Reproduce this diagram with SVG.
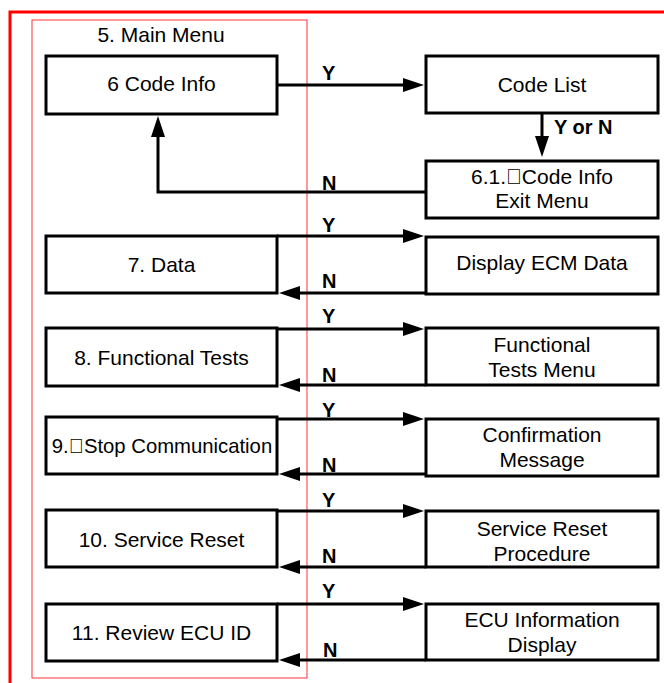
<svg xmlns="http://www.w3.org/2000/svg" width="664" height="683" viewBox="0 0 664 683">
<style>
text{font-family:"Liberation Sans",Arial,sans-serif;fill:#000}
.t{font-size:21px;text-anchor:middle}
.l{font-size:20px;font-weight:bold}
.box{fill:#fff;stroke:#000;stroke-width:3}
.c{fill:none;stroke:#000;stroke-width:3}
</style>
<defs>
<marker id="ah" viewBox="0 0 21 14" refX="6" refY="7" markerWidth="21" markerHeight="14" markerUnits="userSpaceOnUse" orient="auto">
<path d="M0,0 L21,7 L0,14 z" fill="#000"/>
</marker>
</defs>
<rect width="664" height="683" fill="#fff"/>
<path d="M10,683 V12 H664" fill="none" stroke="#ff0000" stroke-width="3"/>
<rect x="32" y="20" width="275" height="658" fill="none" stroke="#ff3333" stroke-width="1"/>
<text class="t" x="161" y="42">5. Main Menu</text>

<g id="n6"><rect class="box" x="46" y="56" width="231" height="58"/><text class="t" x="161.5" y="91">6 Code Info</text></g>
<g id="codelist"><rect class="box" x="426" y="56" width="232" height="57"/><text class="t" x="542" y="92">Code List</text></g>
<g id="n61"><rect class="box" x="426" y="161" width="232" height="57"/><text class="t" x="542" y="184">6.1.&#xF020;Code Info</text><text class="t" x="542" y="208">Exit Menu</text></g>
<g id="n7"><rect class="box" x="46" y="236" width="231" height="57"/><text class="t" x="161.5" y="272">7. Data</text></g>
<g id="ecm"><rect class="box" x="426" y="237" width="232" height="57"/><text class="t" x="542" y="270">Display ECM Data</text></g>
<g id="n8"><rect class="box" x="46" y="328" width="231" height="58"/><text class="t" x="161.5" y="365">8. Functional Tests</text></g>
<g id="ftm"><rect class="box" x="426" y="328" width="232" height="57"/><text class="t" x="542" y="352">Functional</text><text class="t" x="542" y="377">Tests Menu</text></g>
<g id="n9"><rect class="box" x="46" y="417" width="231" height="57"/><text class="t" x="162" y="453" style="font-size:20.3px">9.&#xF020;Stop Communication</text></g>
<g id="conf"><rect class="box" x="426" y="419" width="232" height="57"/><text class="t" x="542" y="442">Confirmation</text><text class="t" x="542" y="467">Message</text></g>
<g id="n10"><rect class="box" x="46" y="510" width="231" height="57"/><text class="t" x="161.5" y="547">10. Service Reset</text></g>
<g id="srp"><rect class="box" x="426" y="511" width="232" height="56"/><text class="t" x="542" y="536">Service Reset</text><text class="t" x="542" y="561">Procedure</text></g>
<g id="n11"><rect class="box" x="46" y="604" width="231" height="57"/><text class="t" x="161.5" y="640">11. Review ECU ID</text></g>
<g id="ecu"><rect class="box" x="426" y="604" width="232" height="56"/><text class="t" x="542" y="627">ECU Information</text><text class="t" x="542" y="652">Display</text></g>

<g id="connectors">
<path class="c" d="M277,85 H409" marker-end="url(#ah)"/>
<path class="c" d="M542,113 V142" marker-end="url(#ah)"/>
<path class="c" d="M426,192 H158 V131" marker-end="url(#ah)"/>
<path class="c" d="M277,236 H409" marker-end="url(#ah)"/>
<path class="c" d="M426,293 H294" marker-end="url(#ah)"/>
<path class="c" d="M277,329 H409" marker-end="url(#ah)"/>
<path class="c" d="M426,385 H294" marker-end="url(#ah)"/>
<path class="c" d="M277,419 H409" marker-end="url(#ah)"/>
<path class="c" d="M426,474 H294" marker-end="url(#ah)"/>
<path class="c" d="M277,511 H409" marker-end="url(#ah)"/>
<path class="c" d="M426,567 H294" marker-end="url(#ah)"/>
<path class="c" d="M277,604 H409" marker-end="url(#ah)"/>
<path class="c" d="M426,660 H294" marker-end="url(#ah)"/>
<text class="l" x="322" y="80">Y</text>
<text class="l" x="554" y="134">Y or N</text>
<text class="l" x="322" y="190">N</text>
<text class="l" x="322" y="232">Y</text>
<text class="l" x="322" y="288">N</text>
<text class="l" x="322" y="323">Y</text>
<text class="l" x="322" y="382">N</text>
<text class="l" x="322" y="417">Y</text>
<text class="l" x="322" y="472">N</text>
<text class="l" x="322" y="507">Y</text>
<text class="l" x="322" y="563">N</text>
<text class="l" x="322" y="598">Y</text>
<text class="l" x="323" y="657">N</text>
</g>
</svg>
